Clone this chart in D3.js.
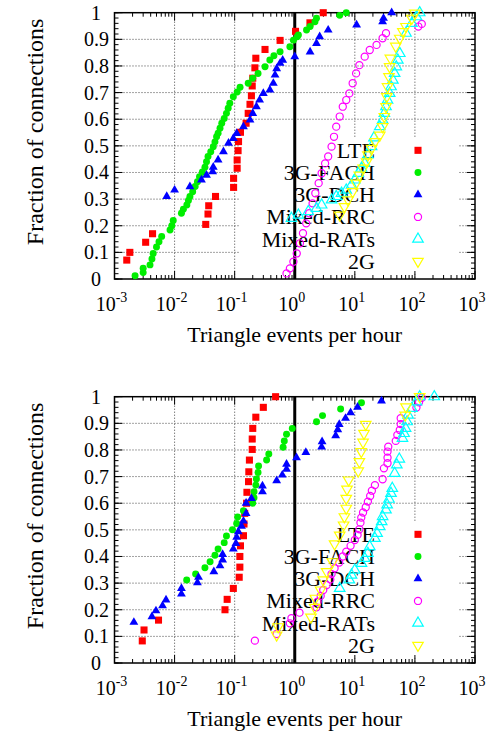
<!DOCTYPE html>
<html>
<head>
<meta charset="utf-8">
<script src="https://cdn.jsdelivr.net/npm/d3@7"></script>
<style>
  body { margin: 0; background: #fff; }
</style>
</head>
<body>
<div id="chart"></div>
<script>
/* two CDF panels: triangle events per hour, by RRC/RAT state */

const seriesNames = ["LTE", "3G-FACH", "3G-DCH", "Mixed-RRC", "Mixed-RATs", "2G"];
const xTicks = [1e-3, 1e-2, 1e-1, 1e0, 1e1, 1e2, 1e3];
const xExps = [-3, -2, -1, 0, 1, 2, 3];
const yTicks = [0, 0.1, 0.2, 0.3, 0.4, 0.5, 0.6, 0.7, 0.8, 0.9, 1];
const yLabels = ["0", "0.1", "0.2", "0.3", "0.4", "0.5", "0.6", "0.7", "0.8", "0.9", "1"];

// top panel
const lteTop = [[0.0016,0.071],[0.0018,0.10],[0.0033,0.138],[0.0043,0.17],[0.033,0.205],[0.036,0.244],[0.037,0.275],[0.048,0.31],[0.096,0.344],[0.096,0.378],[0.11,0.416],[0.11,0.447],[0.114,0.482],[0.116,0.516],[0.125,0.551],[0.155,0.585],[0.168,0.622],[0.18,0.656],[0.19,0.688],[0.196,0.725],[0.2,0.754],[0.217,0.793],[0.225,0.829],[0.32,0.862],[0.57,0.896],[1.03,0.93],[1.79,0.962],[2.98,1.0]];
const fachTop = [[0.0022,0.012],[0.003,0.024],[0.003,0.04],[0.0039,0.053],[0.0042,0.075],[0.0044,0.096],[0.005,0.12],[0.0055,0.14],[0.0061,0.16],[0.0084,0.184],[0.009,0.2],[0.0095,0.22],[0.013,0.247],[0.014,0.262],[0.016,0.278],[0.017,0.295],[0.018,0.31],[0.02,0.328],[0.022,0.347],[0.024,0.365],[0.026,0.384],[0.029,0.402],[0.032,0.42],[0.034,0.44],[0.036,0.46],[0.04,0.478],[0.044,0.497],[0.047,0.515],[0.05,0.534],[0.053,0.547],[0.057,0.566],[0.061,0.585],[0.067,0.603],[0.073,0.622],[0.078,0.641],[0.083,0.66],[0.095,0.684],[0.11,0.702],[0.123,0.72],[0.168,0.735],[0.2,0.754],[0.245,0.772],[0.32,0.797],[0.385,0.822],[0.45,0.838],[0.57,0.853],[0.83,0.872],[0.95,0.897],[1.1,0.91],[1.15,0.916],[1.57,0.935],[1.8,0.948],[2.17,0.966],[2.3,0.979],[5.6,0.99],[7.2,1.0]];
const dchTop = [[0.0074,0.31],[0.01,0.334],[0.018,0.347],[0.028,0.372],[0.034,0.39],[0.043,0.403],[0.044,0.42],[0.053,0.447],[0.065,0.478],[0.079,0.51],[0.095,0.528],[0.108,0.547],[0.14,0.572],[0.18,0.597],[0.2,0.622],[0.23,0.647],[0.26,0.672],[0.3,0.697],[0.385,0.71],[0.44,0.735],[0.47,0.766],[0.5,0.79],[0.57,0.81],[0.63,0.822],[1.0,0.835],[1.8,0.853],[2.3,0.885],[2.6,0.91],[3.6,0.935],[10.7,0.954],[29,0.966],[30,0.979],[41,1.0]];
const rrcTop = [[0.73,0.021],[0.83,0.04],[0.95,0.065],[1.08,0.096],[1.22,0.134],[1.37,0.172],[1.55,0.209],[1.74,0.247],[1.98,0.284],[2.2,0.322],[2.5,0.36],[2.8,0.397],[3.2,0.434],[3.6,0.46],[4.1,0.497],[4.5,0.534],[4.9,0.572],[5.6,0.61],[6.3,0.647],[7.2,0.672],[8.1,0.697],[9.2,0.735],[10.5,0.772],[11.9,0.803],[14.6,0.835],[17.7,0.86],[23,0.879],[29,0.904],[33,0.923],[114,0.948],[130,0.958]];
const ratsTop = [[0.88,0.228],[1.15,0.24],[1.68,0.253],[2.3,0.265],[2.8,0.278],[4.1,0.297],[4.9,0.31],[6.0,0.322],[7.2,0.334],[8.8,0.353],[10.0,0.372],[11.4,0.397],[12.9,0.416],[14.6,0.434],[16.5,0.466],[19,0.497],[20.8,0.53],[26,0.572],[29,0.597],[31,0.622],[33,0.647],[35,0.672],[38,0.697],[40,0.722],[43,0.747],[46,0.772],[49,0.797],[52,0.822],[56,0.847],[71,0.923],[89,0.96],[106,0.985],[120,1.0]];
const g2Top = [[5.6,0.24],[6.7,0.272],[7.7,0.297],[9.2,0.328],[10.5,0.36],[11.9,0.39],[13.8,0.416],[15.7,0.44],[16.5,0.466],[19,0.49],[21.8,0.516],[26,0.54],[29,0.572],[31,0.61],[33,0.647],[34,0.685],[35,0.722],[37,0.76],[38,0.797],[39,0.829],[48,0.874],[56,0.904],[63,0.929],[71,0.948],[89,0.979],[100,0.998]];

// bottom panel
const lteBottom = [[0.0029,0.083],[0.0031,0.124],[0.0054,0.161],[0.069,0.2],[0.075,0.239],[0.095,0.28],[0.119,0.322],[0.122,0.36],[0.122,0.4],[0.125,0.44],[0.14,0.478],[0.143,0.522],[0.147,0.562],[0.158,0.6],[0.16,0.641],[0.17,0.681],[0.172,0.718],[0.176,0.762],[0.196,0.802],[0.196,0.841],[0.2,0.881],[0.225,0.923],[0.3,0.96],[0.48,1.0]];
const fachBottom = [[0.0159,0.312],[0.0224,0.334],[0.032,0.358],[0.039,0.38],[0.047,0.405],[0.053,0.428],[0.067,0.452],[0.073,0.477],[0.092,0.5],[0.108,0.524],[0.112,0.548],[0.14,0.572],[0.2,0.6],[0.21,0.621],[0.21,0.643],[0.225,0.668],[0.23,0.691],[0.245,0.715],[0.25,0.74],[0.34,0.762],[0.37,0.785],[0.64,0.81],[0.67,0.834],[0.73,0.859],[0.91,0.881],[2.3,0.906],[2.9,0.929],[5.8,0.954],[12.9,0.977]];
const dchBottom = [[0.0021,0.153],[0.0042,0.174],[0.0049,0.196],[0.0063,0.215],[0.0072,0.237],[0.013,0.259],[0.013,0.28],[0.024,0.302],[0.025,0.322],[0.045,0.343],[0.057,0.365],[0.063,0.387],[0.063,0.408],[0.095,0.428],[0.105,0.449],[0.108,0.472],[0.115,0.493],[0.13,0.514],[0.14,0.533],[0.155,0.562],[0.155,0.6],[0.19,0.618],[0.29,0.643],[0.29,0.665],[0.5,0.685],[0.62,0.706],[0.73,0.728],[0.73,0.747],[1.07,0.771],[1.53,0.791],[2.8,0.811],[2.85,0.831],[4.8,0.854],[5.2,0.876],[5.5,0.896],[7.0,0.919],[8.5,0.94],[11.1,0.961],[27.8,0.984]];
const rrcBottom = [[0.217,0.084],[0.5,0.109],[0.83,0.149],[0.88,0.168],[1.2,0.189],[2.3,0.209],[2.4,0.23],[2.7,0.252],[2.98,0.274],[3.4,0.293],[3.9,0.314],[4.1,0.334],[4.6,0.356],[5.5,0.377],[6.3,0.4],[7.2,0.418],[8.5,0.44],[10,0.462],[11.1,0.481],[11.9,0.502],[12.4,0.527],[12.8,0.546],[13.7,0.565],[15.2,0.585],[16.5,0.606],[18,0.627],[19.2,0.647],[21.6,0.668],[29,0.69],[30.5,0.731],[35,0.75],[35,0.771],[35,0.794],[36,0.812],[48,0.834],[51,0.856],[56,0.875],[58,0.897],[58,0.919],[106,0.959],[117,0.979],[130,0.996]];
const ratsBottom = [[5.6,0.28],[8.1,0.312],[8.8,0.33],[10,0.349],[12.9,0.374],[14.6,0.393],[16.5,0.412],[17.7,0.437],[21.6,0.468],[23.5,0.487],[26,0.512],[28,0.531],[29,0.55],[33,0.575],[34.5,0.594],[37,0.615],[40,0.637],[42,0.656],[46,0.712],[50,0.744],[55,0.766],[62,0.844],[66,0.862],[70,0.881],[74,0.906],[77,0.931],[89,0.956],[106,0.981],[120,1.0],[210,1.0]];
const g2Bottom = [[0.5,0.105],[0.53,0.136],[1.86,0.172],[2.15,0.209],[2.2,0.243],[2.7,0.274],[2.98,0.312],[3.4,0.343],[4.25,0.38],[4.6,0.447],[5.6,0.48],[6.5,0.518],[6.7,0.549],[7.2,0.581],[7.2,0.618],[7.4,0.653],[7.9,0.687],[11.4,0.721],[11.9,0.756],[12.8,0.794],[13.7,0.829],[14.2,0.862],[15.2,0.896],[69,0.931],[71,0.962],[120,1.0]];

const panels = [
    {top: 12.7, data: [lteTop, fachTop, dchTop, rrcTop, ratsTop, g2Top]},
    {top: 396.7, data: [lteBottom, fachBottom, dchBottom, rrcBottom, ratsBottom, g2Bottom]}
];

// marker styles, same order as seriesNames
const styles = [
    {type: d3.symbolSquare, size: 50, fill: "#ff0000", stroke: "none", rot: 0},
    {type: d3.symbolCircle, size: 38, fill: "#00ee00", stroke: "none", rot: 0},
    {type: d3.symbolTriangle, size: 34, fill: "#0000ff", stroke: "none", rot: 0},
    {type: d3.symbolCircle, size: 40, fill: "none", stroke: "#ff00ff", rot: 0},
    {type: d3.symbolTriangle, size: 48, fill: "none", stroke: "#00ffff", rot: 0},
    {type: d3.symbolTriangle, size: 48, fill: "none", stroke: "#ffff00", rot: 180}
];

const width = 495,
      height = 734,
      plotH = 266.3,
      left = 114.5,
      right = 475,
      serif = '"Liberation Serif"';

const svg = d3.select("#chart")
    .append("svg")
    .attr("width", width)
    .attr("height", height);

const x = d3.scaleLog()
    .domain([1e-3, 1e3])
    .range([left, right]);

const minorX = [];
for (let e = -3; e < 3; e++) {
    for (let k = 2; k < 10; k++) minorX.push(k * Math.pow(10, e));
}
const minorY = d3.range(0, 51).map(i => i / 50);

function drawPanel(p) {
    const bottom = p.top + plotH;
    const y = d3.scaleLinear().domain([0, 1]).range([bottom, p.top]);
    const g = svg.append("g");

    // grid
    g.append("g").selectAll("line")
        .data(xTicks.slice(1, -1))
        .join("line")
        .attr("x1", d => x(d)).attr("x2", d => x(d))
        .attr("y1", p.top).attr("y2", bottom)
        .attr("stroke", "#444").attr("stroke-width", 1)
        .attr("stroke-dasharray", "1,2");
    g.append("g").selectAll("line")
        .data(yTicks.slice(1, -1))
        .join("line")
        .attr("x1", left).attr("x2", right)
        .attr("y1", d => y(d)).attr("y2", d => y(d))
        .attr("stroke", "#444").attr("stroke-width", 1)
        .attr("stroke-dasharray", "1,2");

    // key box hides the grid
    const keyTop = y(0.532);
    g.append("rect")
        .attr("x", 240).attr("y", keyTop)
        .attr("width", 219).attr("height", y(0.02) - keyTop)
        .attr("fill", "#fff");

    // vertical line at 1 event per hour
    g.append("line")
        .attr("x1", x(1)).attr("x2", x(1))
        .attr("y1", p.top).attr("y2", bottom)
        .attr("stroke", "#000").attr("stroke-width", 3);

    // ticks, mirrored on all four sides
    const tk = g.append("g").attr("stroke", "#000").attr("stroke-width", 1);
    xTicks.forEach(t => {
        tk.append("line").attr("x1", x(t)).attr("x2", x(t)).attr("y1", bottom).attr("y2", bottom - 8);
        tk.append("line").attr("x1", x(t)).attr("x2", x(t)).attr("y1", p.top).attr("y2", p.top + 8);
    });
    minorX.forEach(t => {
        tk.append("line").attr("x1", x(t)).attr("x2", x(t)).attr("y1", bottom).attr("y2", bottom - 4);
        tk.append("line").attr("x1", x(t)).attr("x2", x(t)).attr("y1", p.top).attr("y2", p.top + 4);
    });
    yTicks.forEach(t => {
        tk.append("line").attr("x1", left).attr("x2", left + 8).attr("y1", y(t)).attr("y2", y(t));
        tk.append("line").attr("x1", right).attr("x2", right - 8).attr("y1", y(t)).attr("y2", y(t));
    });
    minorY.forEach(t => {
        tk.append("line").attr("x1", left).attr("x2", left + 4).attr("y1", y(t)).attr("y2", y(t));
        tk.append("line").attr("x1", right).attr("x2", right - 4).attr("y1", y(t)).attr("y2", y(t));
    });

    // border
    g.append("rect")
        .attr("x", left).attr("y", p.top)
        .attr("width", right - left).attr("height", plotH)
        .attr("fill", "none").attr("stroke", "#000").attr("stroke-width", 1.5);

    // tick labels
    const xl = g.append("g").selectAll("text")
        .data(xTicks)
        .join("text")
        .attr("x", d => x(d) - 3)
        .attr("y", bottom + 31.5)
        .attr("text-anchor", "middle")
        .style("font-family", serif)
        .attr("font-size", 20);
    xl.append("tspan").text("10");
    xl.append("tspan")
        .attr("dy", -9)
        .attr("font-size", 14)
        .text((d, i) => xExps[i]);

    g.append("g").selectAll("text")
        .data(yTicks)
        .join("text")
        .attr("x", (d, i) => yLabels[i].length > 1 ? 109 : 101)
        .attr("y", d => y(d) + 7)
        .attr("text-anchor", "end")
        .style("font-family", serif)
        .attr("font-size", 20)
        .text((d, i) => yLabels[i]);

    // axis titles
    g.append("text")
        .attr("x", (left + right) / 2)
        .attr("y", bottom + 62.5)
        .attr("text-anchor", "middle")
        .style("font-family", serif)
        .attr("font-size", 22)
        .text("Triangle events per hour");
    g.append("text")
        .attr("transform", `translate(43,${p.top + plotH / 2 - 14}) rotate(-90)`)
        .attr("text-anchor", "middle")
        .style("font-family", serif)
        .attr("font-size", 24)
        .text("Fraction of connections");

    // key
    const key = g.append("g");
    seriesNames.forEach((name, i) => {
        const ky = keyTop + 13 + i * 22.2;
        key.append("text")
            .attr("x", 375).attr("y", ky + 7.5)
            .attr("text-anchor", "end")
            .style("font-family", serif)
            .attr("font-size", 22)
            .text(name);
        const s = styles[i];
        key.append("path")
            .attr("d", d3.symbol().type(s.type).size(s.size)())
            .attr("transform", `translate(418,${ky}) rotate(${s.rot})`)
            .attr("fill", s.fill).attr("stroke", s.stroke).attr("stroke-width", 1.2);
    });

    // points
    p.data.forEach((series, i) => {
        const s = styles[i];
        g.append("g").selectAll("path")
            .data(series)
            .join("path")
            .attr("d", d3.symbol().type(s.type).size(s.size)())
            .attr("transform", d => `translate(${x(d[0])},${y(d[1])}) rotate(${s.rot})`)
            .attr("fill", s.fill)
            .attr("stroke", s.stroke)
            .attr("stroke-width", 1.2);
    });
}

panels.forEach(drawPanel);
</script>
</body>
</html>
